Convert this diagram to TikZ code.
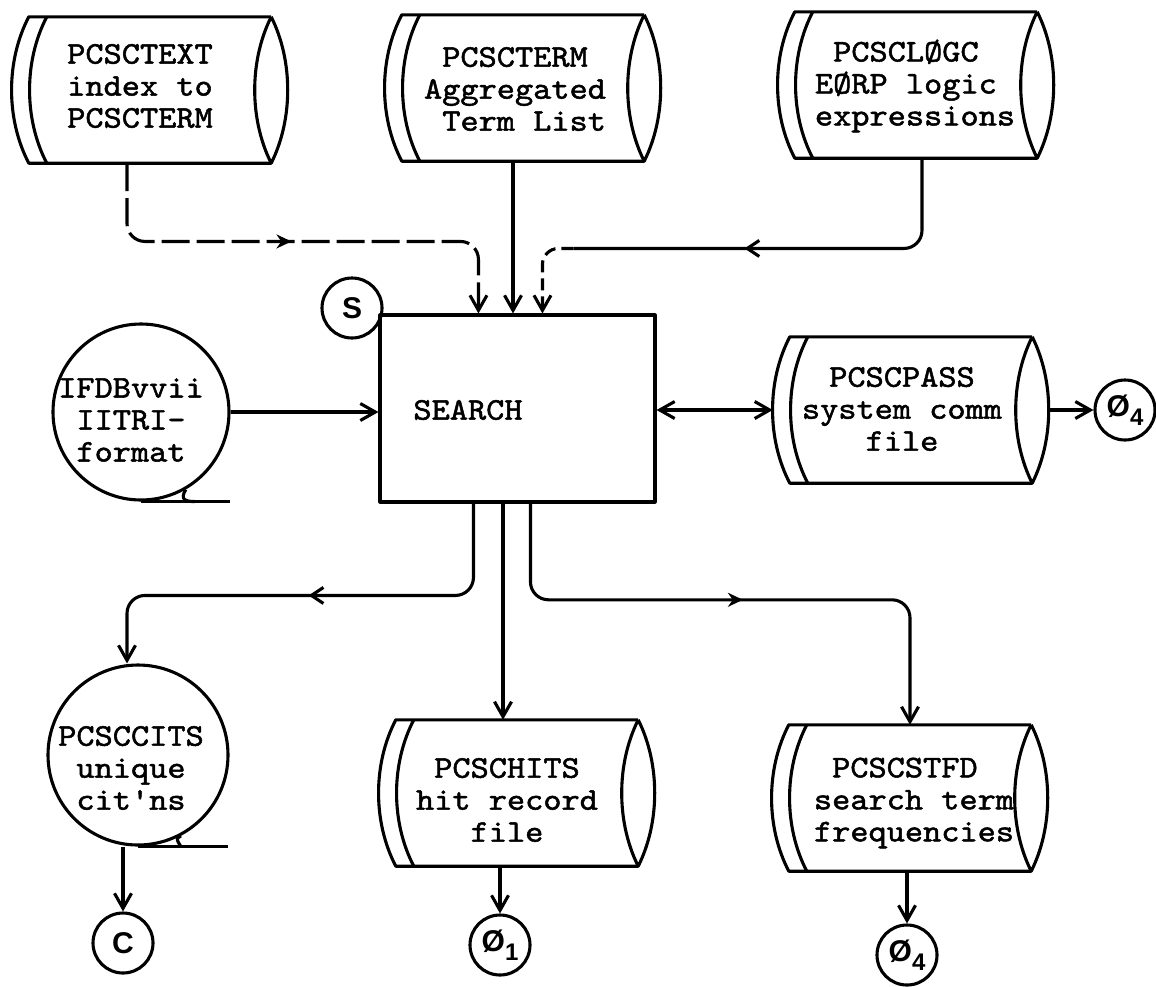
\documentclass[tikz,border=0pt]{standalone}
\usepackage{fontspec}
\newfontfamily\tw{lmmono10-regular}[Extension=.otf,FakeStretch=1.1,FakeBold=1.6]
\newfontfamily\lab{Liberation Sans}
\usetikzlibrary{calc,arrows.meta,decorations.markings}
\tikzset{
  ln/.style={line width=3.1pt, line join=round},
  tip/.style={-{Straight Barb[length=15pt,width=17pt]}},
  conn/.style={ln, tip},
  dshape/.style={draw=none, inner sep=0pt, minimum width=242pt, minimum height=146pt},
  txt/.style={font=\tw\fontsize{31.5pt}{32pt}\selectfont, inner sep=0pt},
  tape/.style={circle, draw, ln, inner sep=0pt},
  conncirc/.style={circle, draw, ln, minimum size=60pt, inner sep=0pt, font=\lab\bfseries\fontsize{30pt}{30pt}\selectfont},
  midarr/.style={postaction={decorate}, decoration={markings, mark=at position #1 with {\arrow{Stealth[length=15pt,width=14pt]}}}},
  midbarb/.style={postaction={decorate}, decoration={markings, mark=at position #1 with {\arrow{Straight Barb[length=12pt,width=16pt]}}}},
}
\newcommand\drumdraw[1]{%
  \draw[ln] (#1.north east) -- (#1.north west)
    .. controls +(-23,44) and +(-23,-44) .. (#1.south west) -- (#1.south east);
  \draw[ln] ($(#1.north west)+(18,0)$) .. controls +(-23,44) and +(-23,-44) .. ($(#1.south west)+(18,0)$);
  \draw[ln] (#1.north east) .. controls +(-22,44) and +(-22,-44) .. (#1.south east)
    .. controls +(22,-44) and +(22,44) .. (#1.north east);
}
\begin{document}
\begin{tikzpicture}[x=1pt,y=-1pt]
\useasboundingbox (0,0) rectangle (1156,986);
% drum shapes
\node[dshape] (dtext) at (150,90) {};
\node[dshape] (dterm) at (523,88) {};
\node[dshape] (dlogc) at (916,85) {};
\node[dshape] (dpass) at (911,410) {};
\node[dshape] (dhits) at (517,793) {};
\node[dshape] (dstfd) at (910,798) {};
\drumdraw{dtext}
\drumdraw{dterm}
\drumdraw{dlogc}
\drumdraw{dpass}
\drumdraw{dhits}
\drumdraw{dstfd}
% drum texts
\node[txt, align=center] (dtext-t) at (140,86) {PCSCTEXT\\index to\\PCSCTERM};
\node[txt, align=left] (dterm-t) at (515,89) {\phantom{P}PCSCTERM\\Aggregated\\\phantom{P}Term List};
\node[txt, align=left] (dlogc-t) at (915,86) {\phantom{P}PCSCLØGC\\EØRP logic\\expressions};
\node[txt, align=center] (dpass-t) at (902,409) {PCSCPASS\\system comm\\file};
\node[txt, align=center] (dhits-t) at (507,800) {PCSCHITS\\hit record\\file};
\node[txt, align=left] (dstfd-t) at (914,803) {\phantom{P}PCSCSTFD\\search term\\frequencies};
% process box
\node[draw, ln, minimum width=275pt, minimum height=187pt, inner sep=0pt] (search) at (517.5,408.5) {};
\node[txt] (search-t) at (468,410) {SEARCH};
% tapes
\node[tape, minimum size=176pt] (ifdb) at (141,412) {};
\node[txt, align=center] (ifdb-t) at (131,420) {IFDBvvii\\IITRI-\\format};
\draw[ln] (ifdb.south) -- ([xshift=89pt]ifdb.south);
\draw[ln] (ifdb.-60) .. controls +(-6,10) and +(-10,0) .. ([xshift=54pt]ifdb.south);
\node[tape, minimum size=180pt] (cits) at (138,755) {};
\node[txt, align=center] (cits-t) at (131,768) {PCSCCITS\\unique\\cit'ns};
\draw[ln] (cits.south) -- ([xshift=90pt]cits.south);
\draw[ln] (cits.-62) .. controls +(-5,3) .. (cits.-62 |- cits.south);
% connector circles
\node[conncirc] (sc) at (352,308) {S};
\node[conncirc] (o4a) at (1125,410) {Ø\raisebox{-9pt}{\fontsize{24pt}{24pt}\selectfont 4}};
\node[conncirc] (cc) at (123,943) {C};
\node[conncirc] (o1) at (500,945) {Ø\raisebox{-9pt}{\fontsize{24pt}{24pt}\selectfont 1}};
\node[conncirc] (o4b) at (907,955) {Ø\raisebox{-9pt}{\fontsize{24pt}{24pt}\selectfont 4}};
% connectors in
\coordinate (in1) at ([xshift=100pt]search.north west);
\draw[conn, dash pattern=on 28pt off 7pt, rounded corners=18pt, midarr=235pt] ([xshift=-23pt]dtext.south) |- ($(in1)+(0,-72)$) -- (in1);
\draw[conn] ([xshift=-10pt]dterm.south) -- ([xshift=-10pt]dterm.south |- search.north);
\coordinate (in3) at ([xshift=164pt]search.north west);
\coordinate (k3) at ($(in3)+(31,-65)$);
\draw[ln, rounded corners=18pt, midbarb=260pt] ([xshift=6pt]dlogc.south) |- (k3);
\draw[conn, dash pattern=on 12pt off 6pt, rounded corners=16pt] (k3) -| (in3);
\draw[conn] (ifdb.east) -- (ifdb.east -| search.west);
\draw[ln, {Straight Barb[length=15pt,width=17pt]}-{Straight Barb[length=15pt,width=17pt]}] (search.east |- dpass.west) -- ([xshift=-17pt]dpass.west);
\draw[conn] ([xshift=17pt]dpass.east) -- (o4a.west);
% connectors out
\coordinate (out7) at ([xshift=95pt]search.south west);
\draw[conn, rounded corners=18pt, midbarb=249pt] (out7) |- ($(cits.north)+(-11,-68)$) -- ([xshift=-11pt]cits.north);
\draw[conn] ([xshift=-14pt]dhits.north |- search.south) -- ([xshift=-14pt]dhits.north);
\coordinate (out9) at ([xshift=152pt]search.south west);
\draw[conn, rounded corners=18pt, midarr=301pt] (out9) |- ($(dstfd.north)+(0,-125)$) -- (dstfd.north);
\draw[conn] (cc.north |- cits.south) -- (cc.north);
\draw[conn] (o1.north |- dhits.south) -- (o1.north);
\draw[conn] (o4b.north |- dstfd.south) -- (o4b.north);
\end{tikzpicture}
\end{document}
